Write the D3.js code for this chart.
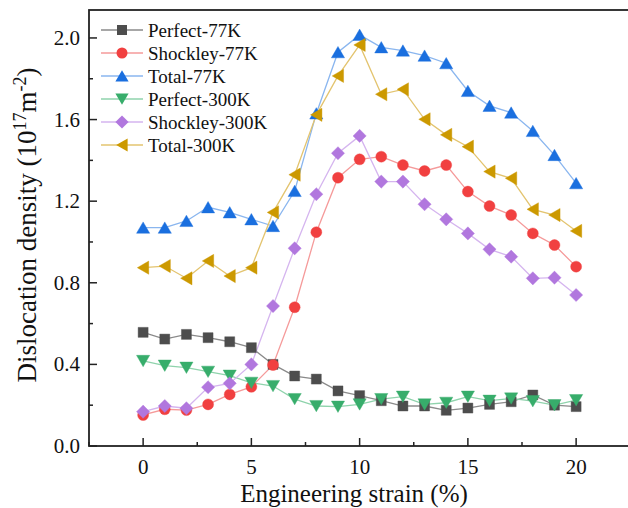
<!DOCTYPE html>
<html>
<head>
<meta charset="utf-8">
<script src="https://cdn.jsdelivr.net/npm/d3@7"></script>
<style>
  body { margin: 0; background: #fff; }
  svg { display: block; font-family: "Liberation Serif", "Times New Roman", serif; }
</style>
</head>
<body>
<svg id="chart"></svg>
<script>
const width = 628, height = 508;

// data
const strain = [0, 1, 2, 3, 4, 5, 6, 7, 8, 9, 10, 11, 12, 13, 14, 15, 16, 17, 18, 19, 20];
const perfect77 = [0.557, 0.524, 0.547, 0.531, 0.511, 0.482, 0.40, 0.343, 0.328, 0.27, 0.247, 0.222, 0.196, 0.196, 0.175, 0.186, 0.204, 0.217, 0.25, 0.20, 0.193];
const shockley77 = [0.152, 0.18, 0.176, 0.204, 0.253, 0.29, 0.397, 0.68, 1.048, 1.315, 1.405, 1.418, 1.377, 1.348, 1.377, 1.247, 1.176, 1.132, 1.042, 0.985, 0.879];
const total77 = [1.07, 1.07, 1.103, 1.17, 1.145, 1.111, 1.078, 1.25, 1.63, 1.93, 2.015, 1.954, 1.938, 1.913, 1.876, 1.74, 1.667, 1.634, 1.544, 1.426, 1.288];
const perfect300 = [0.417, 0.394, 0.384, 0.364, 0.345, 0.31, 0.294, 0.23, 0.196, 0.193, 0.204, 0.23, 0.242, 0.204, 0.212, 0.242, 0.222, 0.233, 0.22, 0.20, 0.225];
const shockley300 = [0.168, 0.196, 0.185, 0.288, 0.307, 0.40, 0.686, 0.969, 1.234, 1.435, 1.52, 1.296, 1.296, 1.185, 1.111, 1.042, 0.964, 0.928, 0.822, 0.825, 0.74];
const total300 = [0.874, 0.882, 0.822, 0.907, 0.833, 0.874, 1.145, 1.33, 1.623, 1.814, 1.966, 1.724, 1.748, 1.601, 1.525, 1.467, 1.345, 1.312, 1.16, 1.132, 1.054];

const seriesNames = ["Perfect-77K", "Shockley-77K", "Total-77K", "Perfect-300K", "Shockley-300K", "Total-300K"];
const xTicks = [0, 5, 10, 15, 20];
const yTicks = [0.0, 0.4, 0.8, 1.2, 1.6, 2.0];

// marker shapes, centred on their bounding box
const markers = {
    square: "M-5,-5H5V5H-5Z",
    circle: "M5.5,0A5.5,5.5 0 1,1 -5.5,0A5.5,5.5 0 1,1 5.5,0Z",
    up: "M0,-5.8L6.6,5.6H-6.6Z",
    down: "M0,5.8L6.6,-5.6H-6.6Z",
    left: "M-5.8,0L5.6,-6.6V6.6Z",
    diamond: "M0,-6.6L6.6,0L0,6.6L-6.6,0Z"
};

const series = [
    { name: seriesNames[0], values: perfect77, color: "#4d4d4d", line: "#8a8a8a", shape: "square" },
    { name: seriesNames[1], values: shockley77, color: "#f14040", line: "#f59a9a", shape: "circle" },
    { name: seriesNames[2], values: total77, color: "#1a6fdf", line: "#8ab6ef", shape: "up" },
    { name: seriesNames[3], values: perfect300, color: "#37ad6b", line: "#8fd3ac", shape: "down" },
    { name: seriesNames[4], values: shockley300, color: "#b177de", line: "#d5b5ef", shape: "diamond" },
    { name: seriesNames[5], values: total300, color: "#cc9900", line: "#e3c46f", shape: "left" }
];

const svg = d3.select("#chart")
    .attr("width", width)
    .attr("height", height);

const x = d3.scaleLinear().domain([-2.5, 22.5]).range([89, 630.25]);
const y = d3.scaleLinear().domain([0, 2.137]).range([446, 10]);

// lines and markers
const line = d3.line()
    .x((d, i) => x(strain[i]))
    .y(d => y(d));

series.forEach(s => {
    svg.append("path")
        .datum(s.values)
        .attr("fill", "none")
        .attr("stroke", s.line)
        .attr("stroke-width", 1.3)
        .attr("d", line);
});

series.forEach(s => {
    svg.append("g")
        .selectAll("path")
        .data(s.values)
        .join("path")
        .attr("transform", (d, i) => `translate(${x(strain[i])},${y(d)})`)
        .attr("d", markers[s.shape])
        .attr("fill", s.color)
        .attr("stroke", s.color)
        .attr("stroke-opacity", 0.5)
        .attr("stroke-width", 0.8);
});

// frame
const frame = svg.append("g")
    .attr("stroke", "#222")
    .attr("stroke-width", 1.8)
    .attr("fill", "none");
frame.append("rect")
    .attr("x", x.range()[0])
    .attr("y", y.range()[1])
    .attr("width", x.range()[1] - x.range()[0])
    .attr("height", y.range()[0] - y.range()[1]);

// ticks (pointing inwards)
const xMinor = [-2.5, 2.5, 7.5, 12.5, 17.5, 22.5];
const yMinor = [0.2, 0.6, 1.0, 1.4, 1.8];

const tickG = svg.append("g").attr("stroke", "#222").attr("stroke-width", 1.5);
tickG.selectAll(".xt").data(xTicks).join("line")
    .attr("x1", d => x(d)).attr("x2", d => x(d))
    .attr("y1", y(0)).attr("y2", y(0) - 8);
tickG.selectAll(".xm").data(xMinor).join("line")
    .attr("x1", d => x(d)).attr("x2", d => x(d))
    .attr("y1", y(0)).attr("y2", y(0) - 4);
tickG.selectAll(".yt").data(yTicks).join("line")
    .attr("x1", x(-2.5)).attr("x2", x(-2.5) + 8)
    .attr("y1", d => y(d)).attr("y2", d => y(d));
tickG.selectAll(".ym").data(yMinor).join("line")
    .attr("x1", x(-2.5)).attr("x2", x(-2.5) + 4)
    .attr("y1", d => y(d)).attr("y2", d => y(d));

// tick labels
svg.append("g").selectAll("text").data(xTicks).join("text")
    .attr("x", d => x(d))
    .attr("y", 474)
    .attr("text-anchor", "middle")
    .attr("font-size", 21)
    .attr("fill", "#111")
    .text(d => d);

svg.append("g").selectAll("text").data(yTicks).join("text")
    .attr("x", 80)
    .attr("y", d => y(d) + 7)
    .attr("text-anchor", "end")
    .attr("font-size", 21)
    .attr("fill", "#111")
    .text(d => d.toFixed(1));

// axis titles
svg.append("text")
    .attr("x", 354)
    .attr("y", 502)
    .attr("text-anchor", "middle")
    .attr("font-size", 25)
    .attr("fill", "#111")
    .text("Engineering strain (%)");

const yTitle = svg.append("text")
    .attr("transform", "translate(36,225) rotate(-90)")
    .attr("text-anchor", "middle")
    .attr("font-size", 27)
    .attr("fill", "#111");
yTitle.append("tspan").text("Dislocation density (10");
yTitle.append("tspan").attr("font-size", 18).attr("dy", -10).text("17");
yTitle.append("tspan").attr("dy", 10).text("m");
yTitle.append("tspan").attr("font-size", 18).attr("dy", -10).text("-2");
yTitle.append("tspan").attr("dy", 10).text(")");

// legend
const legend = svg.append("g");
series.forEach((s, i) => {
    const ly = 30 + i * 23;
    legend.append("line")
        .attr("x1", 101).attr("x2", 143)
        .attr("y1", ly).attr("y2", ly)
        .attr("stroke", s.line)
        .attr("stroke-width", 1.3);
    legend.append("path")
        .attr("transform", `translate(122,${ly})`)
        .attr("d", markers[s.shape])
        .attr("fill", s.color);
    legend.append("text")
        .attr("x", 148)
        .attr("y", ly + 6.5)
        .attr("font-size", 19)
        .attr("fill", "#111")
        .text(s.name);
});
</script>
</body>
</html>
